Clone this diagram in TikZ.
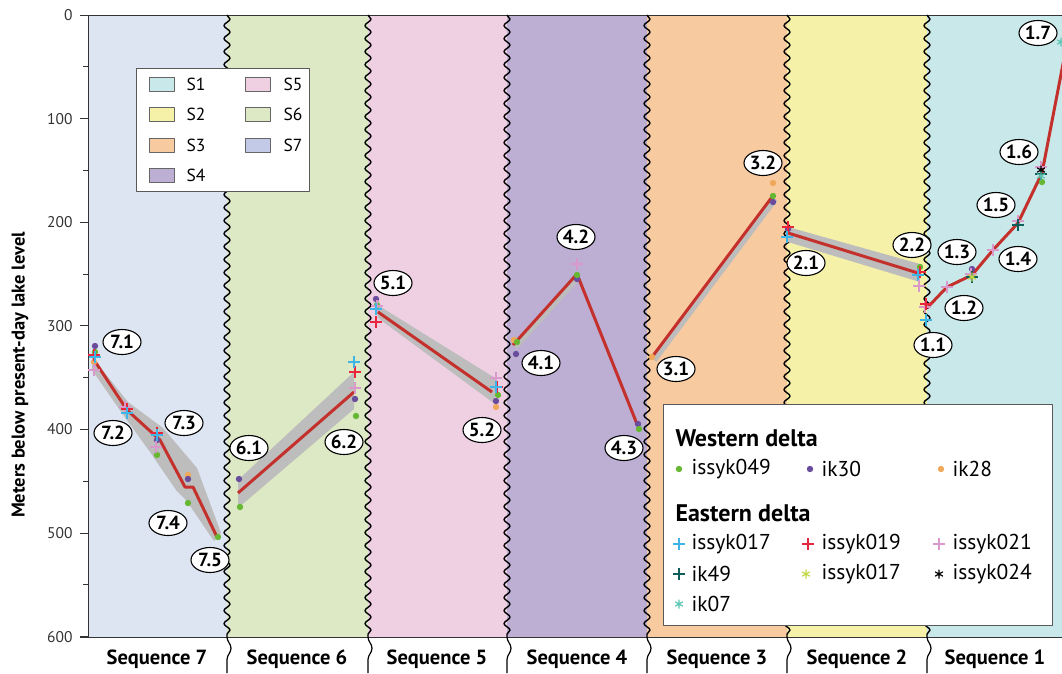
\documentclass[tikz,border=0pt]{standalone}
\usepackage{fontspec}
\setmainfont{PT Sans}
\usepackage{tikz}
\usetikzlibrary{shapes.geometric}
\usetikzlibrary{decorations.pathmorphing}
\definecolor{seq_one}{HTML}{C9E8EA}
\definecolor{seq_two}{HTML}{F6F1A8}
\definecolor{seq_three}{HTML}{F8CAA0}
\definecolor{seq_four}{HTML}{BDAED3}
\definecolor{seq_five}{HTML}{EFD0E3}
\definecolor{seq_six}{HTML}{DCE9C4}
\definecolor{seq_seven}{HTML}{DDE4F2}
\definecolor{key_seven}{HTML}{C2CAE8}
\definecolor{c_green}{HTML}{66B832}
\definecolor{c_purple}{HTML}{6A4C9C}
\definecolor{c_orange}{HTML}{F0A95A}
\definecolor{c_blue}{HTML}{3DB5E6}
\definecolor{c_red}{HTML}{E8253A}
\definecolor{c_pink}{HTML}{D99ACB}
\definecolor{c_teal}{HTML}{0E5E5B}
\definecolor{c_lime}{HTML}{C5D84A}
\definecolor{c_cyan}{HTML}{5CC6B4}
\definecolor{mean_red}{HTML}{C4302B}
\definecolor{band_gray}{HTML}{BDBDBD}
\tikzset{my_chart/.style={x=1pt,y=-1pt,line join=round}}
\tikzset{my_label/.style={ellipse, draw, line width=1.1pt, fill=white, inner sep=0pt, minimum width=38pt, minimum height=25pt, font=\fontsize{19}{19}\selectfont\bfseries}}
\tikzset{my_wave/.style={decorate, decoration={snake, segment length=13pt, amplitude=3pt}, line width=1.4pt}}
\tikzset{my_wave_low/.style={decorate, decoration={snake, segment length=36pt, amplitude=4pt}, line width=1.2pt}}
\tikzset{my_mean/.style={line width=3pt, draw=mean_red}}
\tikzset{my_band/.style={fill=band_gray}}
\tikzset{my_seq/.style={font=\fontsize{20.5}{20.5}\selectfont\bfseries}}
\tikzset{my_key/.style={draw=black!65, line width=1pt, fill=white}}
\tikzset{my_swatch/.style={draw=black!60, line width=0.8pt, minimum width=25pt, minimum height=14pt, inner sep=0pt}}
\tikzset{dot_mark/.pic={\fill (0,0) circle (3.2pt);}}
\tikzset{plus_mark/.pic={\draw[line width=1.6pt] (-6,0) -- (6,0) (0,-6) -- (0,6);}}
\tikzset{star_mark/.pic={\draw[line width=1.2pt] (0,-4.5) -- (0,4.5) (-3.9,-2.2) -- (3.9,2.2) (-3.9,2.2) -- (3.9,-2.2);}}

\begin{document}
\begin{tikzpicture}[my_chart]
    \useasboundingbox (0,0) rectangle (1062,673);
    \clip (0,0) rectangle (1062,673);
    % sequence backgrounds
    \fill[seq_seven] (88,15) rectangle (227,637);
    \fill[seq_six] (227,15) rectangle (368,637);
    \fill[seq_five] (368,15) rectangle (507,637);
    \fill[seq_four] (507,15) rectangle (647,637);
    \fill[seq_three] (647,15) rectangle (787,637);
    \fill[seq_two] (787,15) rectangle (927,637);
    \fill[seq_one] (927,15) rectangle (1062,637);

    % axes
    \draw[black!80, line width=0.9pt] (80,15) -- (1062,15);
    \draw[black!80, line width=0.9pt] (80,637) -- (1062,637);
    \draw[black!80, line width=0.9pt] (88,15) -- (88,637);
    \foreach \d in {0,100,...,600}
        \draw[black!80, line width=0.9pt] (80,15+1.036*\d) -- (88,15+1.036*\d)
            node[pos=0, anchor=east, inner sep=0pt, xshift=-7pt, font=\fontsize{15.5}{15.5}\selectfont] {\d};
    \foreach \d in {50,150,...,550}
        \draw[black!80, line width=0.9pt] (83,15+1.036*\d) -- (88,15+1.036*\d);
    \node[rotate=90, font=\fontsize{18.5}{18.5}\selectfont\bfseries] (ytitle) at (20,375) {Meters below present-day lake level};

    % sequence boundaries
    \foreach \x in {227,368,507,647,787,927} {
        \draw[my_wave] (\x,15) -- (\x,637);
        \draw[my_wave_low] (\x,637) -- (\x,673);
    }

    % sequence names
    \node[my_seq] (seq7) at (157,659) {Sequence 7};
    \node[my_seq] (seq6) at (297,659) {Sequence 6};
    \node[my_seq] (seq5) at (437,659) {Sequence 5};
    \node[my_seq] (seq4) at (577,659) {Sequence 4};
    \node[my_seq] (seq3) at (717,659) {Sequence 3};
    \node[my_seq] (seq2) at (857,659) {Sequence 2};
    \node[my_seq] (seq1) at (995,659) {Sequence 1};

    % uncertainty bands
    \path[my_band] (92,357) -- (128,402) -- (163,428) -- (197,468) -- (221,533) -- (214,541)
        -- (186,500) -- (176,490) -- (150,452) -- (124,416) -- (92,370) -- cycle;
    \path[my_band] (238,480) -- (354,372) -- (354,409) -- (238,508) -- cycle;
    \path[my_band] (376,304) -- (495,378) -- (495,404) -- (378,318) -- cycle;
    \path[my_band] (788,227) -- (920,264) -- (920,282) -- (788,242) -- cycle;
    \draw[band_gray, line width=6pt] (515,347) -- (578,277);
    \draw[band_gray, line width=6pt] (654,360) -- (775,199);

    % mean lake level
    \draw[my_mean] (96,363) -- (127,410) -- (160,440) -- (185,487) -- (193,487) -- (217,537);
    \draw[my_mean] (238,493) -- (354,392);
    \draw[my_mean] (378,312) -- (492,392);
    \draw[my_mean] (513,345) -- (577,274) -- (637,424);
    \draw[my_mean] (652,357) -- (772,197);
    \draw[my_mean] (788,233) -- (918,273);
    \draw[my_mean] (927,308) -- (947,287) -- (972,275) -- (993,250) -- (1018,223) -- (1042,173) -- (1068,38);

    % western delta samples
    \pic[color=c_green] at (95,352) {dot_mark};
    \pic[color=c_orange] at (94,362) {dot_mark};
    \pic[color=c_purple] at (95,346) {dot_mark};
    \pic[color=c_purple] at (157,440) {dot_mark};
    \pic[color=c_green] at (157,455) {dot_mark};
    \pic[color=c_orange] at (188,475) {dot_mark};
    \pic[color=c_purple] at (188,479) {dot_mark};
    \pic[color=c_green] at (188,503) {dot_mark};
    \pic[color=c_green] at (218,537) {dot_mark};
    \pic[color=c_purple] at (239,479) {dot_mark};
    \pic[color=c_green] at (240,507) {dot_mark};
    \pic[color=c_purple] at (355,399) {dot_mark};
    \pic[color=c_green] at (356,416) {dot_mark};
    \pic[color=c_purple] at (376,299) {dot_mark};
    \pic[color=c_green] at (377,305) {dot_mark};
    \pic[color=c_orange] at (496,407) {dot_mark};
    \pic[color=c_purple] at (496,401) {dot_mark};
    \pic[color=c_green] at (498,395) {dot_mark};
    \pic[color=c_orange] at (514,340) {dot_mark};
    \pic[color=c_purple] at (516,354) {dot_mark};
    \pic[color=c_green] at (517,342) {dot_mark};
    \pic[color=c_purple] at (577,279) {dot_mark};
    \pic[color=c_green] at (577,275) {dot_mark};
    \pic[color=c_purple] at (638,424) {dot_mark};
    \pic[color=c_green] at (639,429) {dot_mark};
    \pic[color=c_orange] at (652,357) {dot_mark};
    \pic[color=c_orange] at (773,183) {dot_mark};
    \pic[color=c_purple] at (773,202) {dot_mark};
    \pic[color=c_green] at (773,196) {dot_mark};
    \pic[color=c_purple] at (788,229) {dot_mark};
    \pic[color=c_green] at (920,267) {dot_mark};
    \pic[color=c_purple] at (972,269) {dot_mark};
    \pic[color=c_green] at (1042,182) {dot_mark};

    % eastern delta samples
    \pic[color=c_red] at (94,355) {plus_mark};
    \pic[color=c_blue] at (95,357) {plus_mark};
    \pic[color=c_pink] at (94,370) {plus_mark};
    \pic[color=c_pink] at (125,407) {plus_mark};
    \pic[color=c_red] at (127,409) {plus_mark};
    \pic[color=c_blue] at (127,413) {plus_mark};
    \pic[color=c_pink] at (156,447) {plus_mark};
    \pic[color=c_red] at (157,433) {plus_mark};
    \pic[color=c_blue] at (157,435) {plus_mark};
    \pic[color=c_pink] at (355,388) {plus_mark};
    \pic[color=c_red] at (355,372) {plus_mark};
    \pic[color=c_blue] at (354,362) {plus_mark};
    \pic[color=c_pink] at (377,306) {plus_mark};
    \pic[color=c_blue] at (376,309) {plus_mark};
    \pic[color=c_red] at (376,322) {plus_mark};
    \pic[color=c_pink] at (496,378) {plus_mark};
    \pic[color=c_red] at (497,387) {plus_mark};
    \pic[color=c_blue] at (496,387) {plus_mark};
    \pic[color=c_pink] at (577,264) {plus_mark};
    \pic[color=c_red] at (788,227) {plus_mark};
    \pic[color=c_blue] at (787,237) {plus_mark};
    \pic[color=c_red] at (920,272) {plus_mark};
    \pic[color=c_blue] at (918,275) {plus_mark};
    \pic[color=c_pink] at (919,286) {plus_mark};
    \pic[color=c_pink] at (925,307) {plus_mark};
    \pic[color=c_red] at (926,304) {plus_mark};
    \pic[color=c_blue] at (926,320) {plus_mark};
    \pic[color=c_pink] at (947,287) {plus_mark};
    \pic[color=c_pink] at (971,274) {plus_mark};
    \pic[color=c_teal] at (972,277) {plus_mark};
    \pic[color=c_lime] at (972,277) {star_mark};
    \pic[color=c_pink] at (993,250) {plus_mark};
    \pic[color=c_pink] at (1018,221) {plus_mark};
    \pic[color=c_teal] at (1018,225) {plus_mark};
    \pic[color=c_pink] at (1041,167) {plus_mark};
    \pic[color=c_teal] at (1041,174) {plus_mark};
    \pic[color=black] at (1041,170) {star_mark};
    \pic[color=c_cyan] at (1041,176) {star_mark};
    \pic[color=c_cyan] at (1061,42) {star_mark};

    % parasequence labels
    \node[my_label] (L71) at (122,342) {7.1};
    \node[my_label] (L72) at (113,433) {7.2};
    \node[my_label] (L73) at (184,423) {7.3};
    \node[my_label] (L74) at (168,523) {7.4};
    \node[my_label] (L75) at (210,560) {7.5};
    \node[my_label] (L61) at (249,448) {6.1};
    \node[my_label] (L62) at (344,442) {6.2};
    \node[my_label] (L51) at (393,283) {5.1};
    \node[my_label] (L52) at (482,430) {5.2};
    \node[my_label] (L41) at (541,363) {4.1};
    \node[my_label] (L42) at (576,237) {4.2};
    \node[my_label] (L43) at (624,448) {4.3};
    \node[my_label] (L31) at (676,369) {3.1};
    \node[my_label] (L32) at (763,163) {3.2};
    \node[my_label] (L21) at (806,263) {2.1};
    \node[my_label] (L22) at (912,245) {2.2};
    \node[my_label] (L11) at (933,345) {1.1};
    \node[my_label] (L12) at (964,308) {1.2};
    \node[my_label] (L13) at (957,252) {1.3};
    \node[my_label] (L14) at (1018,259) {1.4};
    \node[my_label] (L15) at (996,205) {1.5};
    \node[my_label] (L16) at (1019,152) {1.6};
    \node[my_label] (L17) at (1038,33) {1.7};

    % key of sequences
    \draw[my_key] (136,68) rectangle (309,191);
    \node[my_swatch, fill=seq_one] (k1) at (162,84) {};
    \node[my_swatch, fill=seq_two] (k2) at (162,114) {};
    \node[my_swatch, fill=seq_three] (k3) at (162,145) {};
    \node[my_swatch, fill=seq_four] (k4) at (162,175) {};
    \node[my_swatch, fill=seq_five] (k5) at (258,84) {};
    \node[my_swatch, fill=seq_six] (k6) at (258,114) {};
    \node[my_swatch, fill=key_seven] (k7) at (258,145) {};
    \node[anchor=west, font=\fontsize{17.5}{17.5}\selectfont] at (183,84) {S1};
    \node[anchor=west, font=\fontsize{17.5}{17.5}\selectfont] at (183,114) {S2};
    \node[anchor=west, font=\fontsize{17.5}{17.5}\selectfont] at (183,145) {S3};
    \node[anchor=west, font=\fontsize{17.5}{17.5}\selectfont] at (183,175) {S4};
    \node[anchor=west, font=\fontsize{17.5}{17.5}\selectfont] at (280,84) {S5};
    \node[anchor=west, font=\fontsize{17.5}{17.5}\selectfont] at (280,114) {S6};
    \node[anchor=west, font=\fontsize{17.5}{17.5}\selectfont] at (280,145) {S7};

    % key of samples
    \draw[my_key] (663,404) rectangle (1052,625);
    \node[anchor=west, font=\fontsize{24}{24}\selectfont\bfseries] at (672,438) {Western delta};
    \node[anchor=west, font=\fontsize{24}{24}\selectfont\bfseries] at (672,513) {Eastern delta};
    \pic[color=c_green] at (679,469) {dot_mark};
    \pic[color=c_purple] at (810,469) {dot_mark};
    \pic[color=c_orange] at (941,469) {dot_mark};
    \pic[color=c_blue] at (679,544) {plus_mark};
    \pic[color=c_red] at (808,544) {plus_mark};
    \pic[color=c_pink] at (939,544) {plus_mark};
    \pic[color=c_teal] at (679,574) {plus_mark};
    \pic[color=c_lime] at (806,574) {star_mark};
    \pic[color=black] at (939,574) {star_mark};
    \pic[color=c_cyan] at (679,604) {star_mark};
    \node[anchor=west, font=\fontsize{21.5}{21.5}\selectfont] at (688,469) {issyk049};
    \node[anchor=west, font=\fontsize{21.5}{21.5}\selectfont] at (818,469) {ik30};
    \node[anchor=west, font=\fontsize{21.5}{21.5}\selectfont] at (949,469) {ik28};
    \node[anchor=west, font=\fontsize{21.5}{21.5}\selectfont] at (688,544) {issyk017};
    \node[anchor=west, font=\fontsize{21.5}{21.5}\selectfont] at (818,544) {issyk019};
    \node[anchor=west, font=\fontsize{21.5}{21.5}\selectfont] at (949,544) {issyk021};
    \node[anchor=west, font=\fontsize{21.5}{21.5}\selectfont] at (688,574) {ik49};
    \node[anchor=west, font=\fontsize{21.5}{21.5}\selectfont] at (818,574) {issyk017};
    \node[anchor=west, font=\fontsize{21.5}{21.5}\selectfont] at (949,574) {issyk024};
    \node[anchor=west, font=\fontsize{21.5}{21.5}\selectfont] at (688,604) {ik07};
\end{tikzpicture}
\end{document}
